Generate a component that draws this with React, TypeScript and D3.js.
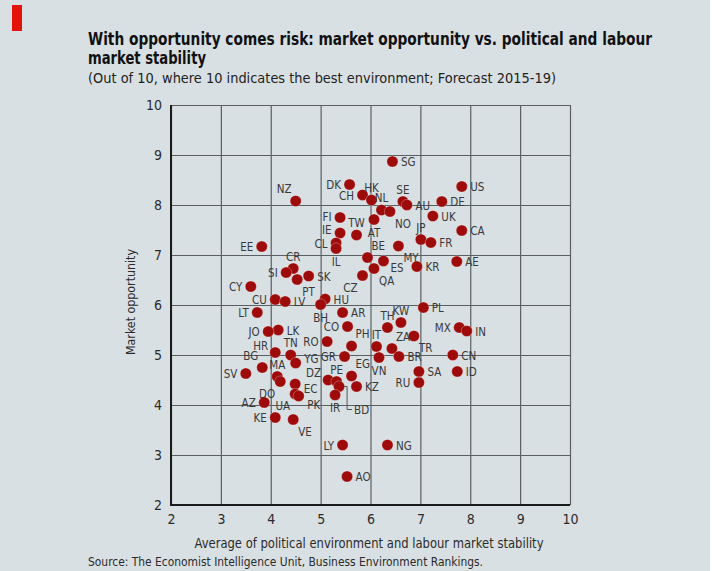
import { useEffect, useRef } from "react";
import * as d3 from "d3";

// Country codes and their scores (out of 10)
const countries = [
  "SG", "US", "DK", "CH", "HK", "NZ", "SE", "AU", "DE", "NL",
  "NO", "UK", "FI", "AT", "IE", "TW", "CA", "JP", "FR", "CL",
  "IL", "EE", "MY", "BE", "ES", "AE", "KR", "QA", "CR", "SI",
  "CZ", "SK", "PT", "CY", "HU", "CU", "LV", "BH", "PL", "LT",
  "AR", "KW", "TH", "CO", "MX", "LK", "JO", "IN", "TR", "RO",
  "PH", "IT", "ZA", "HR", "TN", "CN", "GR", "VN", "BR", "YG",
  "BG", "SA", "ID", "SV", "EG", "MA", "DZ", "PE", "DO", "RU",
  "EC", "KZ", "BD", "UA", "PK", "IR", "AZ", "KE", "VE", "LY",
  "NG", "AO",
];

// Average of political environment and labour market stability
const stability = [
  6.44, 7.83, 5.58, 5.84, 6.02, 4.5, 6.65, 6.73, 7.43, 6.22,
  6.39, 7.25, 5.39, 6.07, 5.39, 5.72, 7.83, 7.01, 7.21, 5.31,
  5.31, 3.82, 6.56, 5.94, 6.26, 7.73, 6.93, 6.07, 4.45, 4.31,
  5.84, 4.76, 4.53, 3.6, 5.09, 4.09, 4.29, 5.0, 7.06, 3.73,
  5.44, 6.61, 6.34, 5.54, 7.78, 4.15, 3.95, 7.93, 6.87, 5.13,
  5.62, 6.12, 6.43, 4.09, 4.4, 7.65, 5.48, 6.17, 6.57, 4.5,
  3.83, 6.97, 7.74, 3.5, 5.62, 4.13, 5.15, 5.32, 4.19, 6.97,
  4.49, 5.72, 5.37, 4.49, 4.56, 5.29, 3.87, 4.09, 4.45, 5.44,
  6.34, 5.53,
];

// Market opportunity
const opportunity = [
  8.87, 8.37, 8.41, 8.2, 8.1, 8.08, 8.07, 8.0, 8.07, 7.9,
  7.87, 7.78, 7.75, 7.71, 7.44, 7.4, 7.49, 7.31, 7.25, 7.24,
  7.13, 7.17, 7.18, 6.95, 6.88, 6.87, 6.77, 6.73, 6.73, 6.65,
  6.59, 6.58, 6.51, 6.37, 6.12, 6.11, 6.07, 6.01, 5.95, 5.85,
  5.85, 5.65, 5.55, 5.57, 5.55, 5.5, 5.47, 5.48, 5.38, 5.27,
  5.18, 5.17, 5.13, 5.05, 5.0, 5.0, 4.97, 4.95, 4.97, 4.84,
  4.75, 4.67, 4.67, 4.63, 4.58, 4.57, 4.5, 4.47, 4.47, 4.45,
  4.42, 4.37, 4.37, 4.22, 4.18, 4.2, 4.05, 3.75, 3.71, 3.2,
  3.2, 2.57,
];

const xTicks = [2, 3, 4, 5, 6, 7, 8, 9, 10];
const yTicks = [2, 3, 4, 5, 6, 7, 8, 9, 10];

// where each label sits relative to its dot (layout only)
const labelSide: Record<string, string> = {
  SG: "e", US: "e", DK: "w", CH: "w", HK: "n", NZ: "nw", SE: "n", AU: "e",
  DE: "e", NL: "n", NO: "se", UK: "e", FI: "wh", AT: "s", IE: "wn", TW: "n",
  CA: "e", JP: "n", FR: "e", CL: "w", IL: "s", EE: "w", MY: "se", BE: "ne",
  ES: "es", AE: "e", KR: "e", QA: "se", CR: "n", SI: "w", CZ: "sw", SK: "e",
  PT: "se", CY: "w", HU: "e", CU: "w", LV: "e", BH: "s", PL: "e", LT: "w",
  AR: "e", KW: "n", TH: "n", CO: "w", MX: "w", LK: "e", JO: "w", IN: "e",
  TR: "se", RO: "w", PH: "ne", IT: "n", ZA: "ne", HR: "wnw", TN: "n", CN: "e",
  GR: "w", VN: "s", BR: "e", YG: "en", BG: "nw", SA: "e", ID: "e", SV: "w",
  EG: "ne", MA: "n", DZ: "wnw", PE: "n", DO: "sw", RU: "w", EC: "ed", KZ: "e",
  BD: "bracket", UA: "sw", PK: "edd", IR: "s", AZ: "w", KE: "w", VE: "se",
  LY: "w", NG: "e", AO: "e",
};

const W = 726;
const H = 571;
const plot = { left: 171, right: 570, top: 105, bottom: 505 };
const bg = "#d9e0e3";
const ink = "#2b2b2b";
const dotColor = "#9e0b0b";
const narrow = "'Liberation Sans Narrow', 'DejaVu Sans Condensed', 'Open Sans', sans-serif";

export default function App() {
  const svgRef = useRef<SVGSVGElement>(null);

  useEffect(() => {
    if (!svgRef.current) return;
    const svg = d3.select(svgRef.current);
    svg.selectAll("*").remove();

    const x = d3.scaleLinear().domain([2, 10]).range([plot.left, plot.right]);
    const y = d3.scaleLinear().domain([2, 10]).range([plot.bottom, plot.top]);
    const pw = plot.right - plot.left;
    const ph = plot.bottom - plot.top;

    svg.append("rect").attr("width", 710).attr("height", H).attr("fill", bg);
    svg.append("rect").attr("x", 12).attr("y", 5).attr("width", 10).attr("height", 26).attr("fill", "#e3120b");

    // titles
    svg
      .append("text")
      .attr("x", 88)
      .attr("y", 45)
      .attr("font-family", narrow)
      .attr("font-weight", "bold")
      .attr("font-size", 17)
      .attr("fill", "#111")
      .attr("textLength", 564)
      .attr("lengthAdjust", "spacingAndGlyphs")
      .text("With opportunity comes risk: market opportunity vs. political and labour");
    svg
      .append("text")
      .attr("x", 88)
      .attr("y", 64)
      .attr("font-family", narrow)
      .attr("font-weight", "bold")
      .attr("font-size", 17)
      .attr("fill", "#111")
      .attr("textLength", 118)
      .attr("lengthAdjust", "spacingAndGlyphs")
      .text("market stability");
    svg
      .append("text")
      .attr("x", 88)
      .attr("y", 83)
      .attr("font-family", narrow)
      .attr("font-size", 14.5)
      .attr("fill", "#222")
      .attr("textLength", 468)
      .attr("lengthAdjust", "spacingAndGlyphs")
      .text("(Out of 10, where 10 indicates the best environment; Forecast 2015-19)");

    // grid + tick labels
    const gx = svg
      .append("g")
      .attr("transform", `translate(0,${plot.bottom})`)
      .call(d3.axisBottom(x).tickValues(xTicks).tickSize(-ph).tickPadding(9).tickFormat(d3.format("d")));
    const gy = svg
      .append("g")
      .attr("transform", `translate(${plot.left},0)`)
      .call(d3.axisLeft(y).tickValues(yTicks).tickSize(-pw).tickPadding(9).tickFormat(d3.format("d")));
    [gx, gy].forEach((g) => {
      g.select(".domain").remove();
      g.selectAll(".tick line").attr("stroke", "#5a5f62").attr("stroke-width", 1.2);
      g.selectAll(".tick text")
        .attr("font-family", narrow)
        .attr("font-size", 14)
        .attr("fill", ink);
    });

    // axis lines
    svg
      .append("path")
      .attr("d", `M${plot.left},${plot.top}V${plot.bottom}H${plot.right}`)
      .attr("fill", "none")
      .attr("stroke", "#1a1a1a")
      .attr("stroke-width", 2);

    // axis titles
    svg
      .append("text")
      .attr("x", 369)
      .attr("y", 548)
      .attr("text-anchor", "middle")
      .attr("font-family", narrow)
      .attr("font-size", 13.5)
      .attr("fill", ink)
      .attr("textLength", 349)
      .attr("lengthAdjust", "spacingAndGlyphs")
      .text("Average of political environment and labour market stability");
    svg
      .append("text")
      .attr("transform", "translate(135,302) rotate(-90)")
      .attr("text-anchor", "middle")
      .attr("font-family", narrow)
      .attr("font-size", 13)
      .attr("fill", ink)
      .attr("textLength", 106)
      .attr("lengthAdjust", "spacingAndGlyphs")
      .text("Market opportunity");

    svg
      .append("text")
      .attr("x", 88)
      .attr("y", 566)
      .attr("font-family", narrow)
      .attr("font-size", 12.5)
      .attr("fill", ink)
      .attr("textLength", 395)
      .attr("lengthAdjust", "spacingAndGlyphs")
      .text("Source: The Economist Intelligence Unit, Business Environment Rankings.");

    const points = countries.map((c, i) => ({ code: c, cx: x(stability[i]), cy: y(opportunity[i]) }));

    // dots
    svg
      .append("g")
      .selectAll("circle")
      .data(points)
      .enter()
      .append("circle")
      .attr("cx", (d) => d.cx)
      .attr("cy", (d) => d.cy)
      .attr("r", 5.6)
      .attr("fill", dotColor)
      .attr("stroke", "rgba(255,255,255,0.35)")
      .attr("stroke-width", 0.8);

    // labels
    const place: Record<string, [number, number, string]> = {
      e: [8.5, 4.5, "start"],
      en: [8.5, 0, "start"],
      ed: [8.5, 9, "start"],
      edd: [8.5, 13, "start"],
      es: [7, 11, "start"],
      w: [-8.5, 4.5, "end"],
      wh: [-8.5, 3, "end"],
      wn: [-8.5, 1, "end"],
      wnw: [-7, -3, "end"],
      n: [0, -8, "middle"],
      s: [0, 17, "middle"],
      ne: [4, -8, "start"],
      nw: [-4, -8, "end"],
      se: [5, 16, "start"],
      sw: [-5, 16, "end"],
      bracket: [15, 27, "start"],
    };
    const lab = svg.append("g");
    points.forEach((p) => {
      const side = labelSide[p.code] ?? "e";
      const [dx, dy, anchor] = place[side];
      if (side === "bracket") {
        lab
          .append("path")
          .attr("d", `M${p.cx + 5},${p.cy}H${p.cx + 8}V${p.cy + 23}H${p.cx + 13}`)
          .attr("fill", "none")
          .attr("stroke", "#555")
          .attr("stroke-width", 1);
      }
      lab
        .append("text")
        .attr("x", p.cx + dx)
        .attr("y", p.cy + dy)
        .attr("text-anchor", anchor)
        .attr("font-family", narrow)
        .attr("font-size", 11.5)
        .attr("fill", "#3a3a3a")
        .text(p.code);
    });
  }, []);

  return (
    <svg
      ref={svgRef}
      width={W}
      height={H}
      style={{ position: "absolute", left: 0, top: 0, background: "#fff" }}
    ></svg>
  );
}
